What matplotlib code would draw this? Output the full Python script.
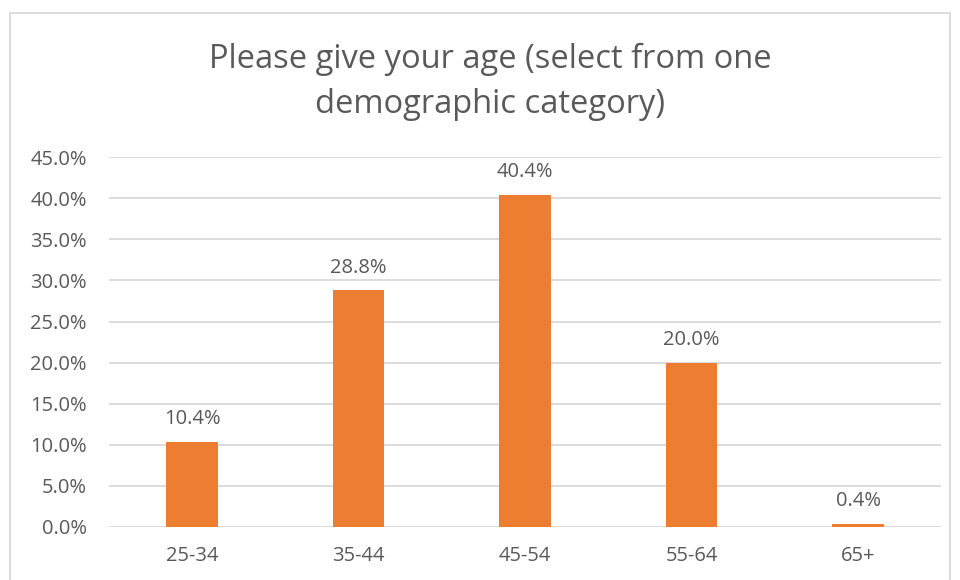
import matplotlib.pyplot as plt
from matplotlib.patches import Rectangle
from matplotlib.ticker import PercentFormatter

categories = ["25-34", "35-44", "45-54", "55-64", "65+"]
shares = [10.4, 28.8, 40.4, 20.0, 0.4]
title = "Please give your age (select from one\ndemographic category)"

text_col = "#595959"
grid_col = "#D9D9D9"
bar_col = "#ED7D31"

plt.rcParams["font.family"] = ["Open Sans", "DejaVu Sans"]

fig = plt.figure(figsize=(9.6, 5.8), dpi=100)
ax = fig.add_axes([0.1135, 0.0914, 0.867, 0.6376])

# chart outline
fig.patches.append(Rectangle((10/960, -0.05), 940/960, 1 - 13/580 + 0.05,
                             transform=fig.transFigure, fill=False,
                             edgecolor=grid_col, linewidth=1.3))

x = range(len(categories))
ax.bar(x, shares, width=0.31, color=bar_col, zorder=3)
for xi, v in zip(x, shares):
    ax.annotate(f"{v:.1f}%", (xi, v), xytext=(0, 9), textcoords="offset points",
                ha="center", va="bottom", fontsize=14.5, color=text_col)

ax.set_xlim(-0.5, len(categories) - 0.5)
ax.set_ylim(0, 45)
ax.set_yticks([i * 5 for i in range(10)])
ax.yaxis.set_major_formatter(PercentFormatter(decimals=1))
ax.set_xticks(list(x))
ax.set_xticklabels(categories)
ax.tick_params(axis="both", length=0, labelsize=14.5, labelcolor=text_col)
ax.tick_params(axis="x", pad=14)
ax.tick_params(axis="y", pad=16)
ax.grid(axis="y", color=grid_col, linewidth=1.3, zorder=0)
for s in ax.spines.values():
    s.set_visible(False)

fig.text(490/960, 1 - 82/580, title, ha="center", va="center",
         fontsize=23.5, color=text_col, linespacing=1.45)

fig.savefig("out.png", dpi=100)
